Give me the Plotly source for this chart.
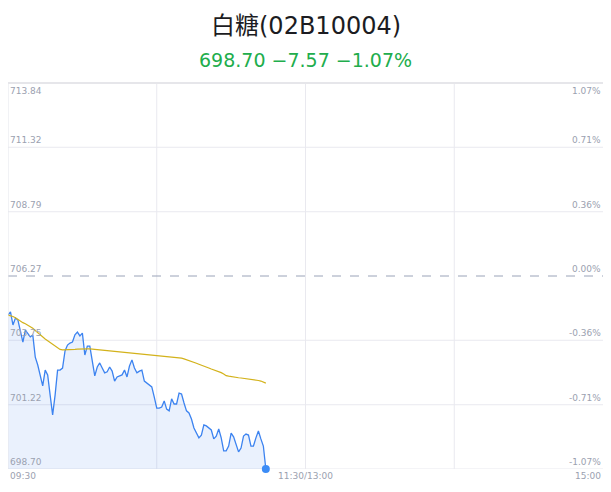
import plotly.graph_objects as go

title_text = "白糖(02B10004)"
subtitle_text = "698.70 −7.57 −1.07%"
prev_close = 706.27

# price per minute from 09:30
price = [704.74, 704.86, 704.35, 704.62, 704.54, 704.15, 703.68, 704.15, 704.03, 703.88,
         703.96, 703.09, 702.78, 702.31, 701.96, 702.58, 702.39, 701.60, 700.82, 701.60,
         702.58, 702.58, 702.66, 703.33, 703.56, 703.64, 703.68, 703.96, 704.07, 703.92,
         704.03, 703.17, 703.52, 703.52, 702.98, 702.35, 702.70, 702.86, 702.66, 702.47,
         702.51, 702.70, 702.54, 702.15, 702.31, 702.35, 702.39, 702.58, 702.31, 702.74,
         702.98, 702.66, 702.47, 702.54, 702.58, 702.15, 702.07, 702.00, 701.92, 701.52,
         701.09, 701.09, 701.13, 701.37, 701.05, 700.98, 701.45, 701.25, 701.25, 701.68,
         701.64, 701.29, 700.98, 700.90, 700.66, 700.31, 700.11, 699.92, 700.03, 700.43,
         700.39, 700.31, 700.23, 699.88, 699.99, 700.27, 699.92, 699.41, 699.41, 699.60,
         700.11, 699.96, 699.68, 699.37, 699.52, 699.99, 700.07, 700.03, 699.60, 699.60,
         699.92, 700.19, 699.88, 699.60, 698.70]

avg_price = [704.74, 704.72, 704.68, 704.63, 704.56, 704.49, 704.44, 704.40, 704.35, 704.29,
             704.22, 704.13, 704.04, 703.95, 703.87, 703.80, 703.73, 703.66, 703.59, 703.50,
             703.43, 703.39, 703.37, 703.37, 703.37, 703.38, 703.38, 703.39, 703.40, 703.41,
             703.41, 703.41, 703.41, 703.41, 703.40, 703.40, 703.39, 703.39, 703.38, 703.37,
             703.36, 703.35, 703.34, 703.33, 703.32, 703.31, 703.30, 703.29, 703.28, 703.27,
             703.26, 703.25, 703.24, 703.23, 703.22, 703.21, 703.20, 703.19, 703.18, 703.17,
             703.16, 703.15, 703.14, 703.13, 703.12, 703.11, 703.10, 703.09, 703.08, 703.06,
             703.05, 703.02, 702.99, 702.96, 702.93, 702.89, 702.85, 702.81, 702.78, 702.74,
             702.70, 702.66, 702.62, 702.59, 702.56, 702.52, 702.48, 702.43, 702.36, 702.34,
             702.32, 702.31, 702.29, 702.28, 702.27, 702.26, 702.25, 702.24, 702.23, 702.21,
             702.19, 702.17, 702.15, 702.12, 702.07]

minutes = list(range(len(price)))

y_ticks = [713.84, 711.32, 708.79, 706.27, 703.75, 701.22, 698.70]
y_tick_labels = ["713.84", "711.32", "708.79", "706.27", "703.75", "701.22", "698.70"]
pct_tick_labels = ["1.07%", "0.71%", "0.36%", "0.00%", "-0.36%", "-0.71%", "-1.07%"]
x_ticks = [0, 120, 240]
x_tick_labels = ["09:30", "11:30/13:00", "15:00"]
x_grid = [60, 120, 180]

label_color = "#9ba1b0"
grid_color = "#e9e9ef"
tick_font = "DejaVu Sans, sans-serif"
head_font = "DejaVu Sans, Noto Sans CJK SC, sans-serif"

fig = go.Figure()
fig.add_trace(go.Scatter(
    x=minutes, y=price, mode="lines",
    line=dict(color="#3c83f0", width=1.3),
    fill="tozeroy", fillcolor="rgba(60,131,240,0.11)",
    hoverinfo="skip", showlegend=False))
fig.add_trace(go.Scatter(
    x=minutes, y=avg_price, mode="lines",
    line=dict(color="#d3b21b", width=1.2),
    hoverinfo="skip", showlegend=False))
fig.add_trace(go.Scatter(
    x=[minutes[-1]], y=[price[-1]], mode="markers",
    marker=dict(color="#3c8cf6", size=8),
    hoverinfo="skip", showlegend=False, cliponaxis=False))

shapes = []
for yv in y_ticks:
    if yv == prev_close:
        continue
    shapes.append(dict(type="line", xref="paper", yref="y", x0=0, x1=1, y0=yv, y1=yv,
                       line=dict(color=grid_color, width=1), layer="below"))
shapes.append(dict(type="line", xref="paper", yref="y", x0=0, x1=1, y0=prev_close, y1=prev_close,
                   line=dict(color="#9aa3b8", width=1, dash="dash"), layer="above"))
for xv in x_grid:
    shapes.append(dict(type="line", xref="x", yref="paper", x0=xv, x1=xv, y0=0, y1=1,
                       line=dict(color=grid_color, width=1), layer="below"))
# left axis line
shapes.append(dict(type="line", xref="paper", yref="paper", x0=0, x1=0, y0=0, y1=1,
                   line=dict(color="#e3e5ec", width=1), layer="above"))
# top full-width separator
shapes.append(dict(type="line", xref="paper", yref="paper", x0=-0.03, x1=1.03, y0=1.0, y1=1.0,
                   line=dict(color="#e6e6ea", width=2), layer="above"))

annotations = []
for i, (yv, lab, pl) in enumerate(zip(y_ticks, y_tick_labels, pct_tick_labels)):
    ya = "top" if i == 0 else "bottom"
    yshift = -1 if i == 0 else 0
    annotations.append(dict(x=0, xref="paper", y=yv, yref="y", text=lab, showarrow=False,
                            xanchor="left", yanchor=ya, yshift=yshift,
                            font=dict(size=9, color=label_color, family=tick_font)))
    annotations.append(dict(x=1, xref="paper", y=yv, yref="y", text=pl, showarrow=False,
                            xanchor="right", yanchor=ya, yshift=yshift,
                            font=dict(size=9, color=label_color, family=tick_font)))
for xv, lab in zip(x_ticks, x_tick_labels):
    xa = "left" if xv == x_ticks[0] else ("right" if xv == x_ticks[-1] else "center")
    annotations.append(dict(x=xv, xref="x", y=0, yref="paper", text=lab, showarrow=False,
                            xanchor=xa, yanchor="top", yshift=0,
                            font=dict(size=9, color=label_color, family=tick_font)))

annotations.append(dict(x=0.5, xref="paper", y=1, yref="paper", text=title_text, showarrow=False,
                        xanchor="center", yanchor="middle", yshift=57,
                        font=dict(size=24, color="#1c1c22", family=head_font)))
annotations.append(dict(x=0.5, xref="paper", y=1, yref="paper", text=subtitle_text, showarrow=False,
                        xanchor="center", yanchor="middle", yshift=23,
                        font=dict(size=19, color="#21ad4c", family=head_font)))

fig.update_layout(
    width=603, height=484,
    margin=dict(l=0, r=8, t=75, b=23),
    paper_bgcolor="white", plot_bgcolor="white",
    shapes=shapes,
    annotations=annotations,
    showlegend=False,
    xaxis=dict(range=[0, 240], showgrid=False, zeroline=False, showticklabels=False,
               showline=False, fixedrange=True),
    yaxis=dict(range=[y_ticks[-1], y_ticks[0]], showgrid=False, zeroline=False,
               showticklabels=False, showline=False, fixedrange=True),
)

fig.write_html("out.html")
